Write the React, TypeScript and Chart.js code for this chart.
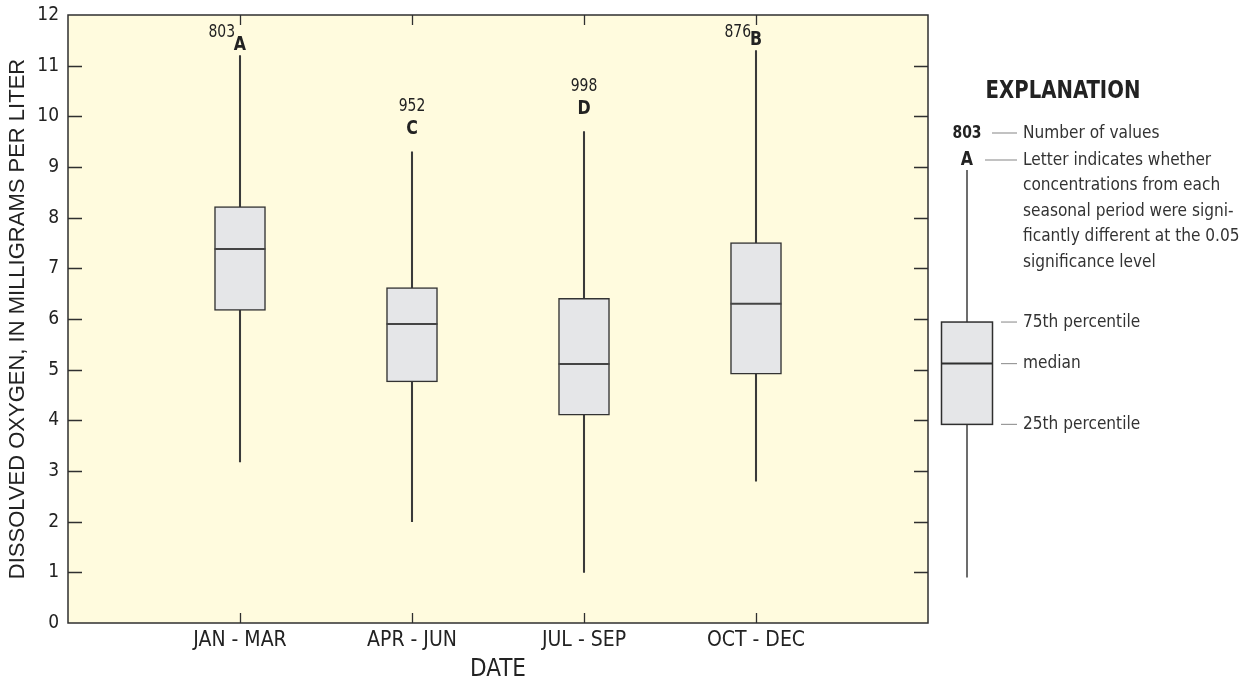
import React, { useEffect, useRef } from "react";
import { Chart, registerables } from "chart.js";

Chart.register(...registerables);

// ---- data ----
const categories = ["JAN - MAR", "APR - JUN", "JUL - SEP", "OCT - DEC"];
const positions = [1, 2, 3, 4];
const whiskerLow = [3.18, 2.0, 1.0, 2.8];
const whiskerHigh = [11.2, 9.3, 9.7, 11.3];
const q1 = [6.17, 4.76, 4.1, 4.91];
const median = [7.38, 5.9, 5.11, 6.3];
const q3 = [8.22, 6.62, 6.41, 7.51];
const counts = ["803", "952", "998", "876"];
const letters = ["A", "C", "D", "B"];

// explanation (legend) box values, in mg/L
const legendStats = [0.9, 3.92, 5.12, 5.94, 8.94]; // low, q1, median, q3, high
const legendCount = "803";
const legendLetter = "A";
const explanationTitle = "EXPLANATION";
const letterNote = [
  "Letter indicates whether",
  "concentrations from each",
  "seasonal period were signi-",
  "ficantly different at the 0.05",
  "significance level",
];
const countNote = "Number of values";
const boxNotes = ["25th percentile", "median", "75th percentile"];

const yTitle = "DISSOLVED OXYGEN, IN MILLIGRAMS PER LITER";
const xTitle = "DATE";

const NARROW = '"DejaVu Sans Condensed", "Liberation Sans Narrow", "Arial Narrow", sans-serif';
const WIDE = '"Liberation Sans", Arial, Helvetica, sans-serif';
const INK = "#2f2f2f";
const BG = "#FFFBDE";
const BOXFILL = "#E5E6E8";

function text(
  ctx: CanvasRenderingContext2D,
  s: string,
  x: number,
  y: number,
  font: string,
  align: CanvasTextAlign,
  sx: number
) {
  ctx.save();
  ctx.font = font;
  ctx.textAlign = align;
  ctx.textBaseline = "middle";
  ctx.translate(x, y);
  ctx.scale(sx, 1);
  ctx.fillText(s, 0, 0);
  ctx.restore();
}

const decorPlugin = {
  id: "decor",
  beforeDraw(chart: any) {
    const { ctx, chartArea: a } = chart;
    ctx.save();
    ctx.fillStyle = BG;
    ctx.fillRect(a.left, a.top, a.right - a.left, a.bottom - a.top);
    ctx.restore();
  },
  afterDatasetsDraw(chart: any) {
    const { ctx, chartArea: a } = chart;
    const xs = chart.scales.x;
    const ys = chart.scales.y;
    ctx.save();
    // frame
    ctx.strokeStyle = INK;
    ctx.lineWidth = 1.5;
    ctx.strokeRect(a.left, a.top, a.right - a.left, a.bottom - a.top);
    // y ticks (inward, both sides)
    ctx.lineWidth = 1.3;
    for (let v = 1; v < 12; v++) {
      const y = Math.round(ys.getPixelForValue(v)) + 0.5;
      ctx.beginPath();
      ctx.moveTo(a.left, y);
      ctx.lineTo(a.left + 14, y);
      ctx.moveTo(a.right, y);
      ctx.lineTo(a.right - 14, y);
      ctx.stroke();
    }
    // x ticks (inward, top and bottom)
    positions.forEach((p) => {
      const x = Math.round(xs.getPixelForValue(p)) + 0.5;
      ctx.beginPath();
      ctx.moveTo(x, a.top);
      ctx.lineTo(x, a.top + 10);
      ctx.moveTo(x, a.bottom);
      ctx.lineTo(x, a.bottom - 10);
      ctx.stroke();
    });

    // counts and letters above whiskers
    ctx.fillStyle = "#222";
    positions.forEach((p, i) => {
      const x = xs.getPixelForValue(p);
      const topPx = ys.getPixelForValue(whiskerHigh[i]);
      let letterY = topPx - 23;
      let numY = letterY - 22;
      let numX = x;
      let numAlign: CanvasTextAlign = "center";
      if (numY - 8 < a.top) {
        letterY = topPx - 11;
        numY = a.top + 17;
        numX = x - 5;
        numAlign = "right";
      }
      text(ctx, letters[i], x, letterY, "bold 20px " + NARROW, "center", 0.88);
      text(ctx, counts[i], numX, numY, "18px " + NARROW, numAlign, 0.86);
    });

    // explanation
    const lx = a.right + 39;
    const textX = a.right + 95;
    const lineEnd = a.right + 89;
    text(ctx, explanationTitle, a.right + 135, 91, "bold 25px " + NARROW, "center", 0.875);

    const [lo, lq1, lmed, lq3, hi] = legendStats.map((v) => ys.getPixelForValue(v));
    // whisker
    ctx.strokeStyle = INK;
    ctx.lineWidth = 1.4;
    ctx.beginPath();
    ctx.moveTo(lx, 170);
    ctx.lineTo(lx, hi);
    ctx.lineTo(lx, lo);
    ctx.stroke();
    // box
    ctx.fillStyle = BOXFILL;
    ctx.fillRect(lx - 25.5, lq3, 51, lq1 - lq3);
    ctx.lineWidth = 1.5;
    ctx.strokeRect(lx - 25.5, lq3, 51, lq1 - lq3);
    ctx.lineWidth = 2;
    ctx.beginPath();
    ctx.moveTo(lx - 25.5, lmed);
    ctx.lineTo(lx + 25.5, lmed);
    ctx.stroke();

    ctx.fillStyle = "#222";
    text(ctx, legendCount, lx, 133, "bold 18px " + NARROW, "center", 0.86);
    text(ctx, legendLetter, lx, 160, "bold 20px " + NARROW, "center", 0.88);

    // connector lines
    ctx.strokeStyle = "#9a9a9a";
    ctx.lineWidth = 1.2;
    const conn = (x0: number, y: number) => {
      ctx.beginPath();
      ctx.moveTo(x0, y);
      ctx.lineTo(lineEnd, y);
      ctx.stroke();
    };
    conn(a.right + 64, 133);
    conn(a.right + 57, 160);
    conn(a.right + 73, lq3);
    conn(a.right + 73, lmed);
    conn(a.right + 73, lq1);

    ctx.fillStyle = "#333";
    const f = "18px " + NARROW;
    const sx = 0.95;
    text(ctx, countNote, textX, 133, f, "left", sx);
    letterNote.forEach((t, k) => text(ctx, t, textX, 160 + k * 25.5, f, "left", sx));
    text(ctx, boxNotes[2], textX, lq3, f, "left", sx);
    text(ctx, boxNotes[1], textX, lmed, f, "left", sx);
    text(ctx, boxNotes[0], textX, lq1, f, "left", sx);
    ctx.restore();
  },
};

export default function App() {
  const ref = useRef<HTMLCanvasElement | null>(null);
  useEffect(() => {
    if (!ref.current) return;
    const chart = new Chart(ref.current, {
      type: "bar",
      data: {
        datasets: [
          {
            type: "scatter",
            label: "median",
            data: positions.map((p, i) => ({ x: p, y: median[i] })),
            pointStyle: "line",
            pointRadius: 25.5,
            pointBorderWidth: 2,
            borderColor: "#444",
            backgroundColor: "#444",
            order: 0,
          } as any,
          {
            type: "bar",
            label: "box",
            data: positions.map((p, i) => ({ x: p, y: [q1[i], q3[i]] })),
            barThickness: 51,
            backgroundColor: BOXFILL,
            borderColor: "#333",
            borderWidth: 1.5,
            borderSkipped: false,
            grouped: false,
            order: 1,
          } as any,
          {
            type: "bar",
            label: "whisker",
            data: positions.map((p, i) => ({ x: p, y: [whiskerLow[i], whiskerHigh[i]] })),
            barThickness: 1.4,
            backgroundColor: "#3a3a3a",
            borderWidth: 0,
            grouped: false,
            order: 2,
          } as any,
        ],
      },
      options: {
        animation: false,
        responsive: false,
        maintainAspectRatio: false,
        events: [],
        layout: { autoPadding: false, padding: { top: 15, right: 324, left: 0, bottom: 0 } },
        plugins: { legend: { display: false }, tooltip: { enabled: false } },
        scales: {
          x: {
            type: "linear",
            min: 0,
            max: 5,
            offset: false,
            afterFit: (s: any) => {
              s.height = 61;
              s.paddingLeft = 0;
              s.paddingRight = 0;
            },
            afterBuildTicks: (s: any) => {
              s.ticks = positions.map((v) => ({ value: v }));
            },
            grid: { display: false, drawTicks: false, offset: false },
            border: { display: false },
            ticks: {
              color: "#222",
              padding: 5,
              maxRotation: 0,
              autoSkip: false,
              font: { family: NARROW, size: 21 },
              callback: (v: any) => categories[positions.indexOf(Number(v))] ?? "",
            },
            title: {
              display: true,
              text: xTitle,
              color: "#222",
              font: { family: NARROW, size: 24 },
              padding: { top: 0, bottom: 0 },
            },
          },
          y: {
            min: 0,
            max: 12,
            afterFit: (s: any) => {
              s.width = 68;
              s.paddingTop = 0;
              s.paddingBottom = 0;
            },
            grid: { display: false, drawTicks: false },
            border: { display: false },
            ticks: {
              stepSize: 1,
              color: "#222",
              padding: 9,
              font: { family: NARROW, size: 19 },
            },
            title: {
              display: true,
              text: yTitle,
              color: "#222",
              font: { family: WIDE, size: 22 },
              padding: { top: 5, bottom: 0 },
            },
          },
        },
      } as any,
      plugins: [decorPlugin],
    });
    return () => chart.destroy();
  }, []);
  return (
    <div style={{ position: "fixed", left: 0, top: 0, width: 1252, height: 684, background: "#fff" }}>
      <canvas ref={ref} width={1252} height={684} style={{ display: "block" }} />
    </div>
  );
}
